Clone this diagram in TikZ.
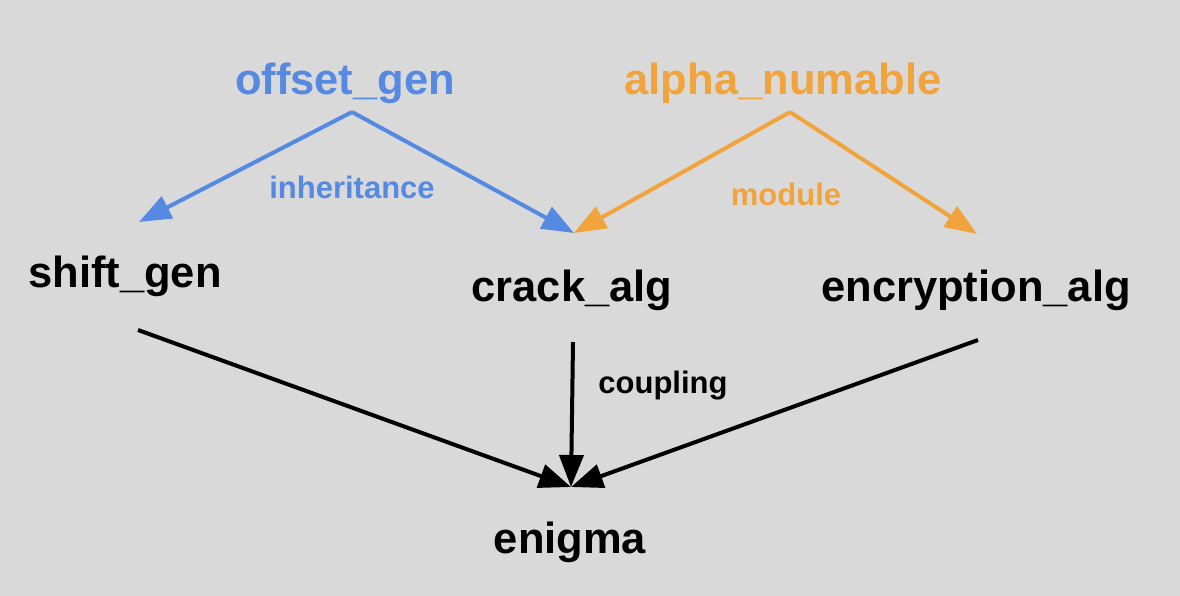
\documentclass[tikz,border=0pt]{standalone}
\usepackage{fontspec}
\setmainfont{Liberation Sans}
\usetikzlibrary{arrows.meta}
\definecolor{inhblue}{RGB}{86,137,226}
\definecolor{modorange}{RGB}{241,163,60}
\definecolor{bggray}{RGB}{217,217,217}
\tikzset{
  bigname/.style={anchor=base, inner sep=0pt, font=\fontsize{43.5}{50}\selectfont\bfseries},
  linklabel/.style={anchor=base, inner sep=0pt, font=\fontsize{31}{36}\selectfont\bfseries},
  link/.style={line width=4pt, -{Triangle[length=32pt,width=24pt]}}
}

\begin{document}
\begin{tikzpicture}[x=1pt,y=-1pt]
    \fill[bggray] (0,0) rectangle (1180,596);
    \useasboundingbox (0,0) rectangle (1180,596);

    \node[bigname, text=inhblue] (offset) at (345,95) {offset\_gen};
    \node[bigname, text=modorange] (alpha) at (783,95) {alpha\_numable};
    \node[bigname] (shift) at (125,287) {shift\_gen};
    \node[bigname] (crack) at (572,301) {crack\_alg};
    \node[bigname] (encrypt) at (976,301) {encryption\_alg};
    \node[bigname] (enigma) at (570,553) {enigma};

    \coordinate (offsetfork) at (352,112);
    \coordinate (alphafork) at (790,112);
    \coordinate (shiftin) at (139,222);
    \coordinate (crackin) at (574,233);
    \coordinate (encryptin) at (977,234);
    \coordinate (shiftout) at (138,330);
    \coordinate (crackout) at (573,342);
    \coordinate (encryptout) at (978,340);
    \coordinate (enigmain) at (571,487);

    \draw[link, inhblue] (offsetfork) -- (shiftin);
    \draw[link, inhblue] (offsetfork) -- (crackin);
    \draw[link, modorange] (alphafork) -- (crackin);
    \draw[link, modorange] (alphafork) -- (encryptin);
    \draw[link] (shiftout) -- (enigmain);
    \draw[link] (crackout) -- (enigmain);
    \draw[link] (encryptout) -- (enigmain);

    \node[linklabel, text=inhblue] (inh) at (352,199) {inheritance};
    \node[linklabel, text=modorange] (mod) at (786,206) {module};
    \node[linklabel] (coup) at (663,393) {coupling};
\end{tikzpicture}
\end{document}
